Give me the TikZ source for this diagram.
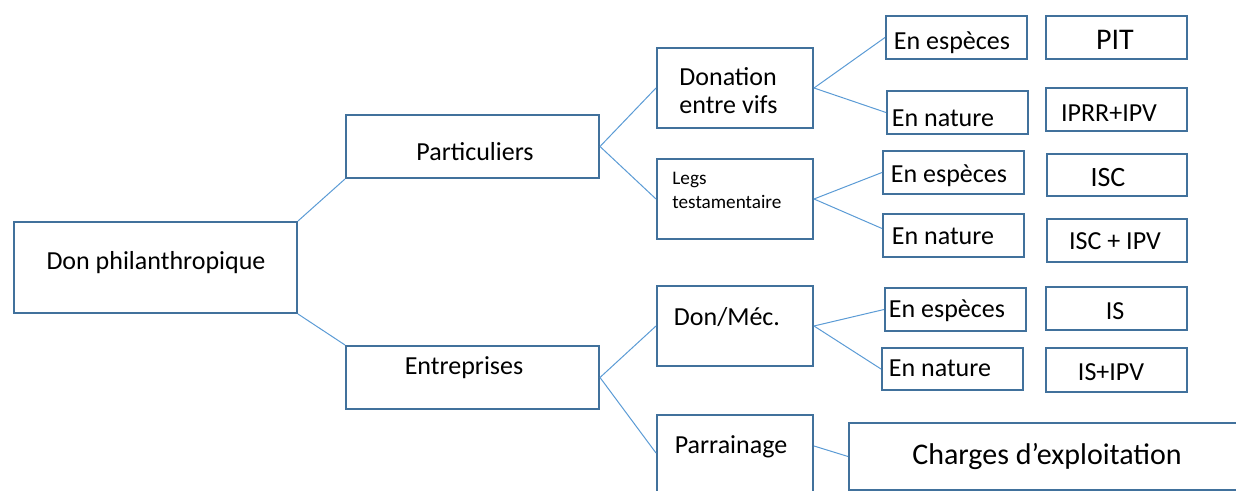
\documentclass[tikz,border=0pt]{standalone}
\usepackage{fontspec}
\setmainfont{Carlito}
\usetikzlibrary{positioning}
\definecolor{boxblue}{RGB}{65,113,156}
\definecolor{linkblue}{RGB}{91,155,213}

\begin{document}
\begin{tikzpicture}[x=0.5pt, y=-0.5pt,
    pbox/.style 2 args={draw=boxblue, line width=1pt, anchor=north west, inner sep=0pt,
        minimum width=#1*0.5pt, minimum height=#2*0.5pt},
    txt/.style={font=\fontsize{13}{14}\selectfont, inner sep=0pt},
    big/.style={font=\fontsize{15}{17}\selectfont, inner sep=0pt},
    link/.style={draw=linkblue, line width=0.5pt}]
\useasboundingbox (0,0) rectangle (1236,491);
\clip (0,0) rectangle (1236,491);

% first and second level
\node[pbox={283}{91}] (don) at (13,221) {};
\node[txt] (don-t) at (156,263) {Don philanthropique};
\node[pbox={253}{63}] (part) at (345,114) {};
\node[txt] (part-t) at (475,152) {Particuliers};
\node[pbox={253}{63}] (entr) at (345,345) {};
\node[txt] (entr-t) at (464,368) {Entreprises};

% third level
\node[pbox={156}{80}] (donv) at (656,47) {};
\node[txt, anchor=west, align=left] (donv-t) at (679,91) {Donation\\entre vifs};
\node[pbox={156}{80}] (legs) at (656,158) {};
\node[font=\fontsize{9.6}{12}\selectfont, inner sep=0pt, anchor=west, align=left] (legs-t)
    at (672,190) {Legs\\testamentaire};
\node[pbox={156}{80}] (donmec) at (656,285) {};
\node[txt] (donmec-t) at (727,317) {Don/Méc.};
\node[pbox={156}{80}] (parr) at (656,414) {};
\node[txt] (parr-t) at (731,447) {Parrainage};

% fourth level
\node[pbox={141}{43}] (esp1) at (885,15) {};
\node[txt] (esp1-t) at (952,43) {En espèces};
\node[pbox={141}{43}] (nat1) at (886,90) {};
\node[txt] (nat1-t) at (943,118) {En nature};
\node[pbox={141}{43}] (esp2) at (882,150) {};
\node[txt] (esp2-t) at (949,176) {En espèces};
\node[pbox={141}{43}] (nat2) at (882,213) {};
\node[txt] (nat2-t) at (943,236) {En nature};
\node[pbox={141}{43}] (esp3) at (884,287) {};
\node[txt] (esp3-t) at (947,311) {En espèces};
\node[pbox={141}{42}] (nat3) at (881,347) {};
\node[txt] (nat3-t) at (940,368) {En nature};
\node[pbox={420}{67}] (charges) at (848,422) {};
\node[big] (charges-t) at (1047,457) {Charges d’exploitation};

% taxes
\node[pbox={141}{43}] (pit) at (1045,15) {};
\node[big] (pit-t) at (1115,40) {PIT};
\node[pbox={141}{43}] (iprr) at (1045,87) {};
\node[txt] (iprr-t) at (1109,113) {IPRR+IPV};
\node[pbox={140}{42}] (isc) at (1046,153) {};
\node[font=\fontsize{14}{16}\selectfont, inner sep=0pt] (isc-t) at (1108,178) {ISC};
\node[pbox={140}{43}] (iscipv) at (1046,218) {};
\node[txt] (iscipv-t) at (1115,241) {ISC + IPV};
\node[pbox={141}{43}] (is) at (1045,286) {};
\node[txt] (is-t) at (1115,311) {IS};
\node[pbox={141}{44}] (isipv) at (1045,347) {};
\node[txt] (isipv-t) at (1111,372) {IS+IPV};

% connectors
\draw[link] (don.north east) -- (part.south west);
\draw[link] (don.south east) -- (entr.north west);
\draw[link] (part.east) -- (donv.west);
\draw[link] (part.east) -- (legs.west);
\draw[link] (entr.east) -- (donmec.west);
\draw[link] (entr.east) -- ([yshift=1pt]parr.west);
\draw[link] (donv.east) -- (esp1.west);
\draw[link] (donv.east) -- (nat1.west);
\draw[link] (legs.east) -- (esp2.west);
\draw[link] (legs.east) -- ([yshift=3.5pt]nat2.west);
\draw[link] (donmec.east) -- (esp3.west);
\draw[link] (donmec.east) -- (nat3.west);
\draw[link] ([yshift=4.5pt]parr.east) -- (charges.west);
\end{tikzpicture}
\end{document}
